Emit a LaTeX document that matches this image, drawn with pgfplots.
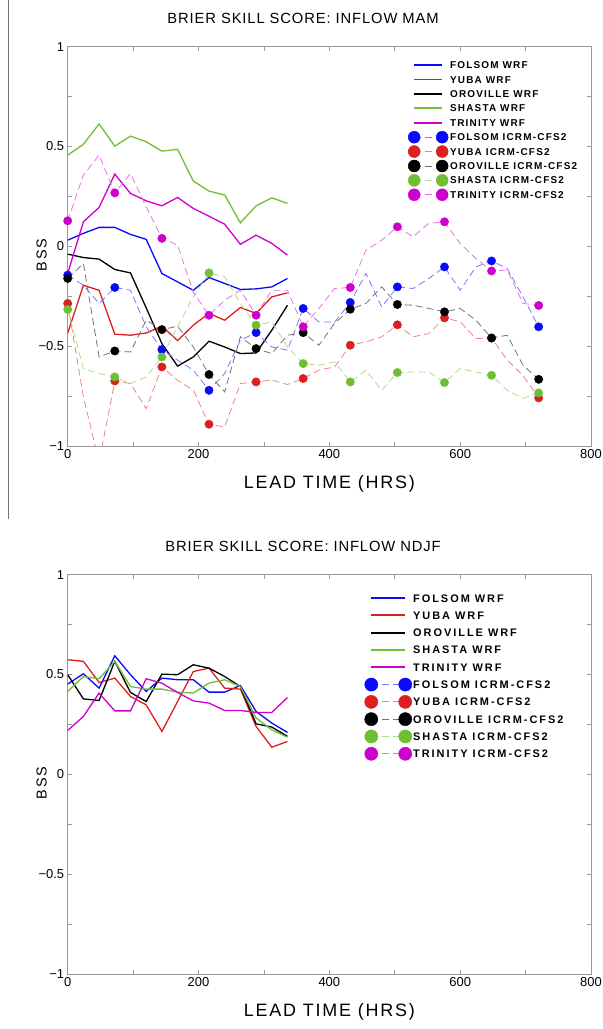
\documentclass[border=0pt]{standalone}
\usepackage{fontspec}
\setmainfont{Liberation Sans}
\newfontfamily\legfontA[LetterSpace=12]{Liberation Sans Bold}
\newfontfamily\legfontB[LetterSpace=18]{Liberation Sans Bold}
\newfontfamily\ttlfont[LetterSpace=6]{Liberation Sans}
\newfontfamily\lblfont[LetterSpace=10]{Liberation Sans}
\usepackage{pgfplots}
\usepackage{pgfplotstable}
\pgfplotsset{compat=1.18}

\definecolor{cblue}{RGB}{10,10,250}
\definecolor{cred}{RGB}{220,32,32}
\definecolor{cblack}{RGB}{0,0,0}
\definecolor{cgreen}{RGB}{112,190,52}
\definecolor{cmag}{RGB}{205,0,205}

% Top: WRF (MAM)
\pgfplotstableread{
h F Y O S T
0 0.031 -0.435 -0.039 0.457 -0.136
24 0.065 -0.195 -0.056 0.511 0.123
48 0.095 -0.220 -0.064 0.613 0.195
72 0.095 -0.440 -0.116 0.502 0.362
96 0.060 -0.445 -0.133 0.552 0.265
120 0.035 -0.434 -0.308 0.524 0.228
144 -0.136 -0.400 -0.487 0.477 0.203
168 -0.178 -0.472 -0.600 0.486 0.245
192 -0.220 -0.395 -0.554 0.327 0.190
216 -0.156 -0.336 -0.475 0.277 0.151
240 -0.186 -0.370 -0.504 0.257 0.111
264 -0.216 -0.306 -0.537 0.118 0.010
288 -0.213 -0.336 -0.534 0.203 0.056
312 -0.203 -0.253 -0.420 0.243 0.015
336 -0.161 -0.233 -0.295 0.215 -0.044
}\wrfmam

% Top: ICRM-CFS2 (MAM)
\pgfplotstableread{
h F Y O S T
0 -0.144 -0.286 -0.161 -0.316 0.128
24 -0.195 -0.754 -0.086 -0.612 0.357
48 -0.286 -1.080 -0.554 -0.637 0.457
72 -0.206 -0.674 -0.524 -0.654 0.268
96 -0.220 -0.687 -0.529 -0.687 0.365
120 -0.403 -0.813 -0.370 -0.654 0.198
144 -0.517 -0.604 -0.417 -0.554 0.040
168 -0.570 -0.671 -0.400 -0.403 0.006
192 -0.620 -0.720 -0.504 -0.253 -0.230
216 -0.721 -0.891 -0.642 -0.133 -0.345
240 -0.637 -0.905 -0.729 -0.153 -0.270
264 -0.470 -0.687 -0.453 -0.286 -0.220
288 -0.432 -0.679 -0.512 -0.395 -0.345
312 -0.504 -0.670 -0.537 -0.378 -0.220
336 -0.520 -0.692 -0.445 -0.504 -0.220
360 -0.311 -0.662 -0.432 -0.587 -0.403
384 -0.378 -0.620 -0.495 -0.595 -0.311
408 -0.380 -0.604 -0.386 -0.579 -0.211
432 -0.281 -0.495 -0.315 -0.679 -0.206
456 -0.136 -0.478 -0.286 -0.620 -0.019
480 -0.303 -0.453 -0.203 -0.721 0.031
504 -0.203 -0.393 -0.291 -0.632 0.098
528 -0.211 -0.453 -0.295 -0.629 0.048
552 -0.161 -0.437 -0.311 -0.629 0.115
576 -0.103 -0.358 -0.328 -0.682 0.123
600 -0.220 -0.378 -0.311 -0.612 0.014
624 -0.103 -0.462 -0.370 -0.629 -0.061
648 -0.073 -0.459 -0.459 -0.646 -0.123
672 -0.111 -0.570 -0.445 -0.721 -0.119
696 -0.253 -0.646 -0.595 -0.762 -0.286
720 -0.403 -0.759 -0.666 -0.734 -0.296
}\icrmmam

% Bottom: WRF (NDJF)
\pgfplotstableread{
h F Y O S T
0 0.452 0.574 0.499 0.415 0.220
24 0.504 0.566 0.378 0.490 0.290
48 0.432 0.460 0.370 0.479 0.407
72 0.594 0.482 0.566 0.566 0.318
96 0.499 0.390 0.410 0.440 0.318
120 0.415 0.348 0.365 0.427 0.479
144 0.482 0.215 0.502 0.427 0.457
168 0.474 0.365 0.499 0.412 0.410
192 0.474 0.515 0.549 0.407 0.368
216 0.412 0.532 0.532 0.457 0.357
240 0.412 0.432 0.490 0.474 0.320
264 0.445 0.427 0.440 0.440 0.320
288 0.315 0.240 0.253 0.282 0.310
312 0.257 0.136 0.237 0.223 0.310
336 0.210 0.165 0.190 0.186 0.385
}\wrfndjf

\def\leglen{28bp}
\def\legmark{6bp}
\def\leghalf{3.5bp}

\pgfplotsset{
  wrf/.style={color=#1, line width=1.3bp, no markers,
    legend image code/.code={%
      \draw[##1, line width=1.8bp] (0bp,0bp) -- (\leglen,0bp);
      \path[draw=none,fill=none] (0bp,-\leghalf) rectangle (\leglen,\leghalf);}},
  icrmline/.style={color=#1!55, line width=0.8bp, dash pattern=on 7bp off 4bp,
    no markers, forget plot},
  icrmmark/.style={only marks, mark=*, mark size=4.2bp, color=#1,
    mark options={solid, fill=#1, draw=#1}, each nth point=3,
    legend image code/.code={%
      \begin{scope}[overlay]
      \draw[color=#1!55, line width=0.9bp, dash pattern=on 7bp off 4bp] (0bp,0bp) -- (\leglen,0bp);
      \fill[#1] (0bp,0bp) circle[radius=\legmark];
      \fill[#1] (\leglen,0bp) circle[radius=\legmark];
      \end{scope}
      \path[draw=none,fill=none] (0bp,-\leghalf) rectangle (\leglen,\leghalf);}},
  bssaxis/.style={
    scale only axis, width=523.3bp, height=399.3bp,
    xmin=0, xmax=800, ymin=-1, ymax=1,
    xtick={0,200,400,600,800}, xticklabels={0,200,400,600,800},
    minor xtick={100,300,500,700},
    ytick={-1,-0.5,0,0.5,1}, yticklabels={−1,−0.5,0,0.5,1},
    minor ytick={-0.75,-0.25,0.25,0.75},
    tick align=inside, major tick length=4bp, minor tick length=4bp,
    axis line style={black!40, line width=0.8bp},
    tick style={black!40, line width=0.6bp},
    tick label style={font=\fontsize{13}{15}\selectfont, text=black},
    xlabel={LEAD TIME (HRS)}, ylabel={BSS},
    xlabel style={font=\lblfont\fontsize{18}{20}\selectfont,
      at={(axis description cs:0.5,0)}, anchor=north, yshift=-26bp},
    ylabel style={font=\lblfont\fontsize{14.5}{17}\selectfont,
      at={(axis description cs:-0.0333,0.478)}, anchor=south},
    title style={font=\ttlfont\fontsize{14.8}{17}\selectfont,
      at={(axis description cs:0.4497,1)}, anchor=south, yshift=13.5bp},
    legend cell align=left,
  },
}

\begin{document}
\begin{tikzpicture}
\useasboundingbox (0bp,0bp) rectangle (603bp,-1029bp);
\draw[black!55, line width=0.7bp] (8bp,0bp) -- (8bp,-519bp);

\begin{axis}[bssaxis, at={(67.7bp,-446bp)}, anchor=south west,
  title={BRIER SKILL SCORE: INFLOW MAM},
  legend style={at={(0.660,0.963)}, anchor=north west, draw=none, fill=none,
    inner sep=0pt, row sep=7.4bp, column sep=7bp,
    nodes={inner sep=0pt, text height=7bp, text depth=0bp,
      font=\legfontA\fontsize{10}{12}\selectfont}}]
\addplot[wrf=cblue] table[x=h,y=F] {\wrfmam};
\addplot[wrf=cred] table[x=h,y=Y] {\wrfmam};
\addplot[wrf=cblack] table[x=h,y=O] {\wrfmam};
\addplot[wrf=cgreen] table[x=h,y=S] {\wrfmam};
\addplot[wrf=cmag] table[x=h,y=T] {\wrfmam};
\addplot[icrmline=cblue] table[x=h,y=F] {\icrmmam};
\addplot[icrmmark=cblue] table[x=h,y=F] {\icrmmam};
\addplot[icrmline=cred] table[x=h,y=Y] {\icrmmam};
\addplot[icrmmark=cred] table[x=h,y=Y] {\icrmmam};
\addplot[icrmline=cblack] table[x=h,y=O] {\icrmmam};
\addplot[icrmmark=cblack] table[x=h,y=O] {\icrmmam};
\addplot[icrmline=cgreen] table[x=h,y=S] {\icrmmam};
\addplot[icrmmark=cgreen] table[x=h,y=S] {\icrmmam};
\addplot[icrmline=cmag] table[x=h,y=T] {\icrmmam};
\addplot[icrmmark=cmag] table[x=h,y=T] {\icrmmam};
\legend{FOLSOM WRF, YUBA WRF, OROVILLE WRF, SHASTA WRF, TRINITY WRF,
  FOLSOM ICRM-CFS2, YUBA ICRM-CFS2, OROVILLE ICRM-CFS2, SHASTA ICRM-CFS2, TRINITY ICRM-CFS2}
\end{axis}

\def\leglen{34bp}
\def\legmark{6.6bp}
\def\leghalf{4bp}
\begin{axis}[bssaxis, at={(67.7bp,-974bp)}, anchor=south west,
  title={BRIER SKILL SCORE: INFLOW NDJF},
  legend style={at={(0.578,0.952)}, anchor=north west, draw=none, fill=none,
    inner sep=0pt, row sep=9.3bp, column sep=7bp,
    nodes={inner sep=0pt, text height=8bp, text depth=0bp,
      font=\legfontB\fontsize{11}{13}\selectfont}}]
\addplot[wrf=cblue] table[x=h,y=F] {\wrfndjf};
\addplot[wrf=cred] table[x=h,y=Y] {\wrfndjf};
\addplot[wrf=cblack] table[x=h,y=O] {\wrfndjf};
\addplot[wrf=cgreen] table[x=h,y=S] {\wrfndjf};
\addplot[wrf=cmag] table[x=h,y=T] {\wrfndjf};
\addlegendimage{icrmmark=cblue}
\addlegendimage{icrmmark=cred}
\addlegendimage{icrmmark=cblack}
\addlegendimage{icrmmark=cgreen}
\addlegendimage{icrmmark=cmag}
\legend{FOLSOM WRF, YUBA WRF, OROVILLE WRF, SHASTA WRF, TRINITY WRF,
  FOLSOM ICRM-CFS2, YUBA ICRM-CFS2, OROVILLE ICRM-CFS2, SHASTA ICRM-CFS2, TRINITY ICRM-CFS2}
\end{axis}
\end{tikzpicture}
\end{document}
